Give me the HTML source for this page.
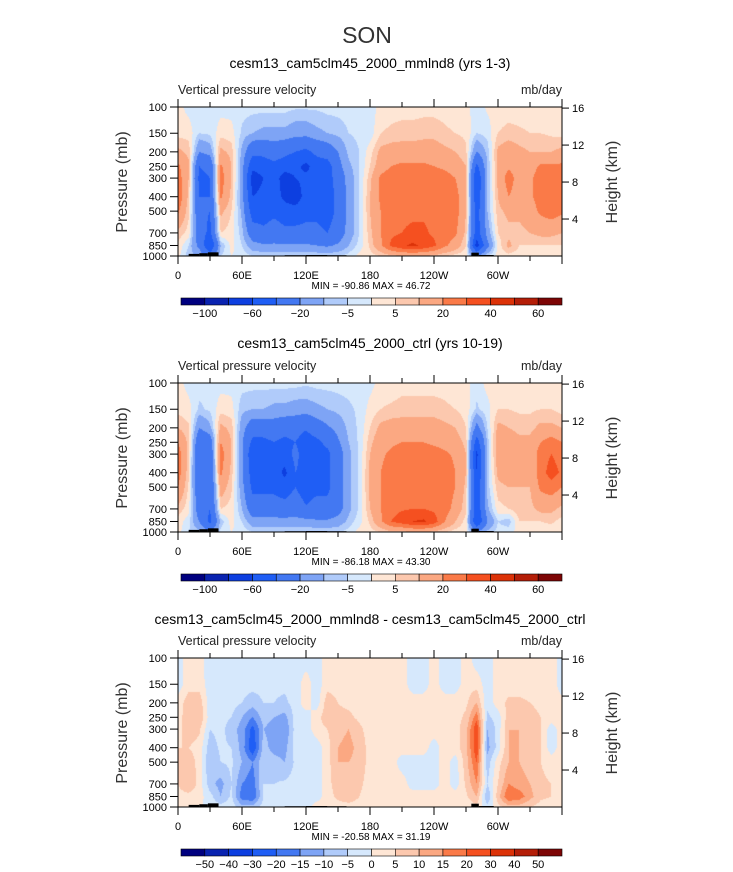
<!DOCTYPE html>
<html><head><meta charset="utf-8"><style>
html,body{margin:0;padding:0;background:#fff;}
#wrap{position:relative;width:733px;height:872px;overflow:hidden;font-family:"Liberation Sans",sans-serif;}
canvas{position:absolute;}
svg{position:absolute;left:0;top:0;}
</style></head><body>
<div id="wrap">
<canvas id="c1" width="384" height="149" style="left:178px;top:107px"></canvas>
<canvas id="c2" width="384" height="149" style="left:178px;top:383px"></canvas>
<canvas id="c3" width="384" height="149" style="left:178px;top:658px"></canvas>
<svg id="ov" width="733" height="872"></svg>
</div>
<script>
// ---- data ----
const lons = [0,10,20,30,40,50,60,70,80,90,100,110,120,130,140,150,160,170,180,190,200,210,220,230,240,250,260,270,280,290,300,310,320,330,340,350,360];
const plevs = [100,150,200,250,300,400,500,700,850,1000];
const levelsMain = [-100,-80,-60,-40,-20,-10,-5,0,5,10,20,30,40,50,60];
const levelsDiff = [-50,-40,-30,-20,-15,-10,-5,0,5,10,15,20,30,40,50];
const colors = ["#00007f","#0a23b0","#0d3fe0","#1f5ef5","#4378f2","#7ea4f5","#b0cbfa","#d6e8fc","#fee6d5","#fcc8ae","#fba882","#fa7a48","#f55020","#dc3208","#b41e08","#7d0505"];
const xTickLabels = ["0","60E","120E","180","120W","60W"];
const pTickLabels = [100,150,200,250,300,400,500,700,850,1000];
const zTickLabels = [4,8,12,16];
const field1 = [
[2,3,12,22,25,28,22,8,4,2],[-2,3,8,12,10,8,6,3,-5,-8],[-3,-5,-20,-40,-45,-40,-35,-30,-25,-10],[-3,-4,-15,-35,-40,-40,-40,-45,-60,-30],
[-2,3,12,22,25,22,12,5,-10,-5],[-2,2,8,10,10,8,5,3,2,0],[-3,-6,-12,-15,-15,-15,-12,-8,-5,-2],[-3,-10,-35,-55,-70,-60,-50,-30,-15,-5],
[-3,-12,-35,-50,-60,-55,-50,-35,-18,-5],[-3,-12,-30,-45,-50,-50,-45,-30,-18,-5],[-3,-12,-35,-50,-70,-65,-50,-35,-18,-5],[-4,-15,-40,-55,-60,-75,-50,-35,-18,-5],
[-4,-15,-45,-65,-55,-50,-45,-35,-18,-5],[-4,-12,-35,-50,-60,-55,-45,-35,-20,-5],[-3,-10,-30,-50,-50,-50,-50,-40,-22,-5],[-3,-8,-20,-25,-30,-35,-35,-30,-18,-5],
[-3,-5,-8,-12,-15,-15,-15,-15,-10,-3],[-3,-4,-5,-5,-5,-5,-5,-5,-3,2],[-3,-3,3,5,8,10,10,8,6,3],[2,5,12,15,22,22,20,20,18,5],
[3,6,14,20,26,26,26,28,32,8],[3,7,14,22,27,28,28,30,38,10],[3,7,14,22,27,28,28,32,42,10],[3,8,14,22,27,28,28,32,38,10],
[3,8,14,20,26,28,28,28,32,8],[3,6,12,18,24,27,27,26,22,5],[2,5,10,15,20,24,25,22,15,3],[2,4,6,10,12,12,10,8,5,2],
[-3,-5,-20,-45,-60,-55,-50,-50,-70,-20],[1,-3,-8,-10,-10,-10,-10,-15,-25,-5],[2,5,12,12,12,10,8,5,2,2],[2,7,15,18,25,20,12,8,12,3],
[2,6,12,15,15,15,12,8,5,2],[2,5,10,15,18,18,15,10,5,2],[2,5,10,22,25,25,22,12,5,2],[1,4,10,22,28,30,25,12,5,2],[1,3,12,22,25,30,22,10,5,2]];
const field2 = [
[2,3,10,20,25,25,20,8,3,2],[-2,2,6,8,8,6,4,2,-3,-5],[-3,-6,-20,-35,-40,-40,-35,-30,-20,-8],[-3,-4,-12,-30,-35,-35,-40,-40,-45,-20],
[-2,3,12,20,25,22,15,5,-8,-3],[-2,2,8,10,10,8,6,3,2,0],[-3,-8,-15,-18,-18,-18,-15,-10,-5,-2],[-3,-10,-30,-45,-55,-50,-45,-30,-15,-5],
[-3,-10,-30,-45,-55,-50,-45,-30,-15,-5],[-3,-12,-28,-40,-48,-48,-45,-30,-15,-5],[-3,-12,-32,-45,-50,-65,-50,-32,-15,-5],[-3,-14,-32,-40,-35,-40,-40,-28,-15,-5],
[-4,-14,-38,-50,-50,-45,-50,-38,-15,-5],[-3,-12,-28,-45,-45,-45,-45,-32,-18,-5],[-3,-10,-22,-35,-45,-45,-45,-32,-18,-5],[-3,-8,-16,-22,-28,-28,-28,-26,-15,-5],
[-3,-6,-8,-10,-12,-12,-12,-12,-8,-3],[-3,-4,-4,-4,-4,-4,-4,-4,-2,2],[-2,2,5,8,10,12,12,10,6,3],[2,5,12,16,18,20,20,20,18,5],
[2,6,14,18,22,26,26,27,30,8],[3,7,14,20,27,28,28,29,35,8],[3,7,14,20,27,28,28,30,40,10],[3,7,14,20,27,28,28,30,42,10],
[3,7,14,18,25,28,28,28,35,8],[3,6,12,16,22,27,27,25,20,5],[2,5,10,14,18,20,20,16,10,3],[2,3,5,8,10,10,8,6,3,2],
[-3,-6,-25,-50,-65,-60,-55,-55,-60,-20],[2,-2,-5,-8,-8,-8,-8,-12,-20,-8],[2,5,12,15,15,12,8,3,-5,-3],[2,5,10,15,18,15,10,5,-8,-2],
[2,4,8,12,12,12,10,8,5,2],[2,4,8,12,12,12,10,8,5,2],[2,5,12,20,25,25,22,12,5,2],[1,5,12,25,30,35,25,12,6,2],[2,3,10,20,25,28,20,8,3,2]];
const field3 = [
[-3,-3,2,3,3,5,8,5,3,2],[3,3,8,8,8,5,8,10,3,2],[2,3,8,10,6,3,3,3,2,1],[-3,-3,-3,-3,-5,-8,-10,-8,-3,-2],
[-2,-3,-2,-3,-3,-4,-5,-12,-10,-3],[-3,-3,-3,-5,-8,-5,-4,-5,-4,-2],[-4,-3,-5,-10,-12,-12,-10,-15,-18,-8],[-3,-3,-8,-15,-22,-25,-15,-18,-20,-8],
[-3,-3,-5,-8,-10,-8,-6,-5,-5,-3],[-3,-4,-5,-10,-12,-12,-8,-5,-3,-2],[-3,-4,-6,-12,-15,-12,-10,-4,-3,-3],[-3,-3,-3,-3,-3,-3,-4,-3,-3,-3],
[-3,3,3,-3,-3,-3,-3,-3,-3,-3],[-3,-3,-3,3,3,-3,-3,-3,-3,3],[3,3,8,8,5,3,3,3,3,3],[3,3,5,6,8,10,10,8,6,3],
[3,3,4,6,10,12,10,10,8,3],[3,3,3,4,6,8,8,6,5,3],[3,3,3,3,3,3,3,3,3,3],[3,3,3,3,3,3,3,3,3,3],
[3,3,3,3,3,3,3,3,3,3],[3,3,3,3,3,3,-3,3,3,3],[-3,-3,3,3,3,3,-3,-3,3,3],[-3,-3,3,3,3,3,-3,-3,3,3],
[3,3,3,3,3,-3,-3,-3,3,3],[-3,-3,3,3,3,3,3,3,3,3],[-3,-3,3,3,3,3,-3,-3,3,3],[3,3,4,6,8,8,8,6,4,2],
[-3,3,10,18,25,25,20,15,10,3],[-3,-3,-4,-6,-10,-12,-8,-5,-10,-3],[3,3,3,-3,-3,-3,3,5,8,3],[3,3,6,8,10,10,10,15,20,8],
[3,3,6,8,10,10,10,12,18,8],[3,3,5,8,8,8,8,10,12,5],[3,3,3,5,5,5,5,6,6,3],[3,3,3,3,-3,-3,3,5,5,3],[-3,-3,2,3,3,3,3,5,3,2]];
const mins = ["-90.86","-86.18","-20.58"];
const maxs = ["46.72","43.30","31.19"];
const titles = ["cesm13_cam5clm45_2000_mmlnd8 (yrs 1-3)","cesm13_cam5clm45_2000_ctrl (yrs 10-19)","cesm13_cam5clm45_2000_mmlnd8 - cesm13_cam5clm45_2000_ctrl"];
// terrain segments: [lon start, lon end, surface pressure top]
const terrainLon0 = [10,20,28,100,120,140,275,282];
const terrainLon1 = [20,28,38,120,140,158,282,296];
const terrainP = [968,958,945,988,985,988,950,985];

// ---- geometry ----
const PW=384, PH=149, X0=178;
const tops=[107,383,658], cbY=[298,574,849], titleY=[68,348,624];
const xScale = lon => lon/360*PW;
const yScale = p => Math.log(p/100)/Math.log(10)*PH;
const lnP = plevs.map(p=>Math.log(p));

function sample(field, lon, p){
  let fi = lon/10; let i0=Math.min(35,Math.floor(fi)); let tx=fi-i0;
  let lp=Math.log(p), j0=0;
  while(j0<plevs.length-2 && lp>lnP[j0+1]) j0++;
  let ty=(lp-lnP[j0])/(lnP[j0+1]-lnP[j0]); ty=Math.max(0,Math.min(1,ty));
  const a=field[i0][j0], b=field[i0+1][j0], c=field[i0][j0+1], d=field[i0+1][j0+1];
  return (a*(1-tx)+b*tx)*(1-ty)+(c*(1-tx)+d*tx)*ty;
}
function hex(h){return [parseInt(h.substr(1,2),16),parseInt(h.substr(3,2),16),parseInt(h.substr(5,2),16)];}
const rgb = colors.map(hex);
function drawField(id, field, levels){
  const ctx=document.getElementById(id).getContext('2d');
  const img=ctx.createImageData(PW,PH);
  for(let y=0;y<PH;y++){
    const p=100*Math.pow(10,(y+0.5)/PH);
    for(let x=0;x<PW;x++){
      const lon=(x+0.5)/PW*360;
      const v=sample(field,lon,p);
      let k=0; while(k<levels.length && v>=levels[k]) k++;
      const c=rgb[k], o=(y*PW+x)*4;
      img.data[o]=c[0];img.data[o+1]=c[1];img.data[o+2]=c[2];img.data[o+3]=255;
    }
  }
  ctx.putImageData(img,0,0);
}
drawField('c1',field1,levelsMain);
drawField('c2',field2,levelsMain);
drawField('c3',field3,levelsDiff);

// ---- overlay ----
const NS="http://www.w3.org/2000/svg";
const ov=document.getElementById('ov');
function el(tag,attrs,parent){const e=document.createElementNS(NS,tag);for(const k in attrs)e.setAttribute(k,attrs[k]);(parent||ov).appendChild(e);return e;}
function txt(s,x,y,size,anchor,parent,extra){const t=el('text',Object.assign({x:x,y:y,'font-size':size,'text-anchor':anchor||'start',fill:'#000'},extra||{}),parent);t.textContent=s;return t;}

const son=txt("SON",367,43,23,'middle',ov,{fill:'#333'});



for(let k=0;k<3;k++){
  const T=tops[k];
  const g=el('g',{});
  
  
  const tt=txt(titles[k],370,titleY[k],14,'middle',g);
  
  
  const st=txt("Vertical pressure velocity",X0,T-13,12.5,'start',g,{fill:'#222'});
  
  
  const un=txt("mb/day",X0+PW,T-13,12.5,'end',g,{fill:'#222'});
  
  
  for(let i=0;i<terrainP.length;i++){
    const h=T+yScale(terrainP[i]);
    const r=el('rect',{x:X0+xScale(terrainLon0[i]),y:h,width:xScale(terrainLon1[i]-terrainLon0[i]),height:T+PH-h,fill:'#000'},g);
    
    
  }
  const fr=el('rect',{x:X0,y:T,width:PW,height:PH,fill:'none',stroke:'#000','stroke-width':1},g);
  
  
  for(let lon=0;lon<=360;lon+=30){
    const x=X0+xScale(lon), len=(lon%60===0)?8:5;
    el('line',{x1:x,y1:T,x2:x,y2:T-len,stroke:'#000'},g);
    el('line',{x1:x,y1:T+PH,x2:x,y2:T+PH+len,stroke:'#000'},g);
  }
  xTickLabels.forEach((s,i)=>{
    const t=txt(s,X0+xScale(i*60),T+PH+23,11,'middle',g);
    
    
  });
  pTickLabels.forEach(p=>{
    const y=T+yScale(p);
    el('line',{x1:X0,y1:y,x2:X0-8,y2:y,stroke:'#000'},g);
    const t=txt(String(p),X0-11,y+4,11,'end',g);
    
    
  });
  zTickLabels.forEach(z=>{
    const p=1000*Math.exp(-z/7), y=T+yScale(p);
    el('line',{x1:X0+PW,y1:y,x2:X0+PW+7,y2:y,stroke:'#000'},g);
    const t=txt(String(z),X0+PW+10,y+4,11,'start',g);
    
    
  });
  const yl=txt("Pressure (mb)",0,0,16,'middle',g,{transform:'translate(127,'+(T+75)+') rotate(-90)',fill:'#333'});
  
  
  const zl=txt("Height (km)",0,0,16,'middle',g,{transform:'translate(617,'+(T+75)+') rotate(-90)',fill:'#333'});
  
  
  const mm=txt("MIN = "+mins[k]+"   MAX =  "+maxs[k],371,T+PH+33,10,'middle',g,{'xml:space':'preserve'});
  
  
  const cb=el('g',{},g);
  
  
  const cx0=181, cw=(562-181)/16, cy=cbY[k];
  colors.forEach((c,i)=>{
    const r=el('rect',{x:cx0+i*cw,y:cy,width:cw,height:7,fill:c,stroke:'#000','stroke-width':0.6},cb);
    
    
  });
  const lv = k===2?levelsDiff:levelsMain;
  lv.forEach((v,i)=>{
    if(k<2 && i%2!==0) return;
    const t=txt(String(v).replace('-','\u2212'),cx0+(i+1)*cw,cy+19,11,'middle',cb);
    
    
  });
}
</script>
</body></html>
